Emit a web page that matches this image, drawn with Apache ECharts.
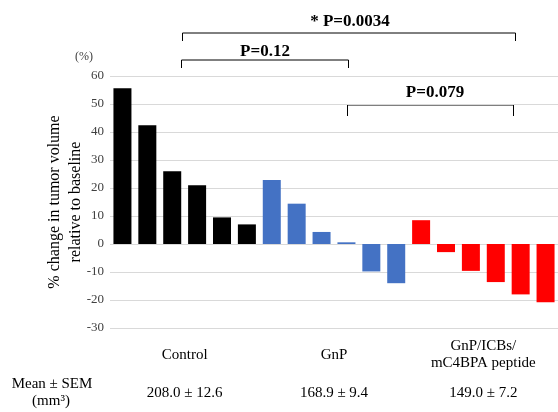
<!DOCTYPE html>
<html>
<head>
<meta charset="utf-8">
<script src="https://cdn.jsdelivr.net/npm/echarts@6/dist/echarts.min.js"></script>
<style>
html, body { margin: 0; padding: 0; background: #fff; }
#main { width: 558px; height: 412px; }
</style>
</head>
<body>
<div id="main"></div>
<script>
// values (% change vs baseline)
var controlVals = [55.6, 42.4, 26.0, 21.0, 9.5, 7.0];
var gnpVals = [22.9, 14.4, 4.3, 0.6, -9.8, -14.0];
var comboVals = [8.5, -2.9, -9.6, -13.6, -18.0, -20.8];
var groupNames = ['Control', 'GnP', 'GnP/ICBs/\nmC4BPA peptide'];
var meanSem = ['208.0 ± 12.6', '168.9 ± 9.4', '149.0 ± 7.2'];
var yMin = -30, yMax = 60, yStep = 10;

var serif = "'Liberation Serif', 'Times New Roman', serif";
var groupColors = ['#000000', '#4472c4', '#ff0000'];

var myChart = echarts.init(document.getElementById('main'));

var barData = [];
var cats = [];
[controlVals, gnpVals, comboVals].forEach(function (arr, g) {
    arr.forEach(function (v) {
        cats.push('b' + cats.length);
        barData.push({ value: v, itemStyle: { color: groupColors[g] } });
    });
});

// bracket annotations: [x1, x2, yLine, yTick, label, labelX, labelY]
var brackets = [
    [182.5, 515.5, 33, 41, '* P=0.0034', 350, 22],
    [181.5, 348.5, 60, 68, 'P=0.12', 265, 52],
    [347.5, 513.5, 105, 116, 'P=0.079', 435, 93]
];
var graphics = [];
brackets.forEach(function (b) {
    graphics.push({
        type: 'polyline',
        shape: { points: [[b[0], b[3]], [b[0], b[2]], [b[1], b[2]], [b[1], b[3]]] },
        style: { stroke: '#000', lineWidth: 1, fill: null }
    });
    graphics.push({
        type: 'text', x: b[5], y: b[6],
        style: { text: b[4], font: 'bold 17px ' + serif, fill: '#000', textAlign: 'center', textVerticalAlign: 'middle' }
    });
});
graphics.push({
    type: 'text', x: 84, y: 57,
    style: { text: '(%)', font: '12px ' + serif, fill: '#404040', textAlign: 'center', textVerticalAlign: 'middle' }
});
graphics.push({
    type: 'text', x: 52, y: 384,
    style: { text: 'Mean ± SEM', font: '15px ' + serif, fill: '#000', textAlign: 'center', textVerticalAlign: 'middle' }
});
graphics.push({
    type: 'text', x: 51, y: 401,
    style: { text: '(mm³)', font: '15px ' + serif, fill: '#000', textAlign: 'center', textVerticalAlign: 'middle' }
});

var labelAxis = function (gridIndex, data) {
    return {
        type: 'category', gridIndex: gridIndex, data: data,
        axisLine: { show: false }, axisTick: { show: false }, splitLine: { show: false },
        axisLabel: {
            margin: 0, verticalAlign: 'middle', align: 'center', interval: 0,
            fontFamily: serif, fontSize: 15, lineHeight: 17, color: '#000'
        }
    };
};

option = {
    animation: false,
    backgroundColor: '#fff',
    grid: [
        { left: 110, top: 76, width: 457, height: 252 },
        { left: 110, top: 354, width: 457, height: 1 },
        { left: 110, top: 392, width: 457, height: 1 }
    ],
    xAxis: [
        {
            type: 'category', gridIndex: 0, data: cats,
            axisLine: { show: false }, axisTick: { show: false }, axisLabel: { show: false }
        },
        labelAxis(1, groupNames),
        labelAxis(2, meanSem)
    ],
    yAxis: [
        {
            type: 'value', gridIndex: 0, min: yMin, max: yMax, interval: yStep,
            axisLine: { show: false }, axisTick: { show: false },
            splitLine: { lineStyle: { color: '#d9d9d9', width: 1 } },
            axisLabel: { margin: 6, fontFamily: serif, fontSize: 13, color: '#404040' },
            name: '% change in tumor volume\nrelative to baseline',
            nameLocation: 'middle', nameRotate: 90, nameGap: 24,
            nameMoveOverlap: false,
            nameTextStyle: { fontFamily: serif, fontSize: 16, lineHeight: 21, color: '#000' }
        },
        { type: 'value', gridIndex: 1, show: false },
        { type: 'value', gridIndex: 2, show: false }
    ],
    series: [{
        type: 'bar',
        xAxisIndex: 0, yAxisIndex: 0,
        data: barData,
        barWidth: 18
    }],
    graphic: graphics
};

myChart.setOption(option);
window.addEventListener('resize', function () {
    myChart.resize();
});
</script>
</body>
</html>
